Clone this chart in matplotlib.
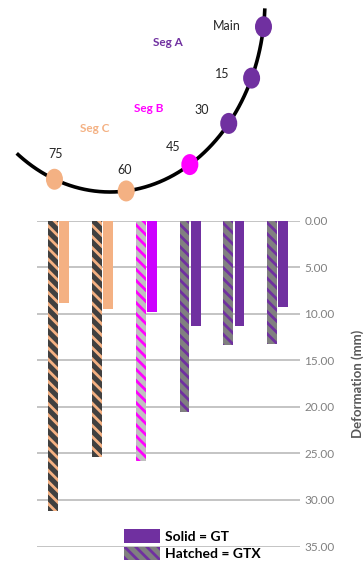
import numpy as np
import matplotlib
matplotlib.use("Agg")
import matplotlib.pyplot as plt
from matplotlib.patches import Ellipse, Patch

plt.rcParams['font.family'] = ['Lato', 'DejaVu Sans']
plt.rcParams['hatch.linewidth'] = 2.0

# bar data (deformation in mm), one pair per location
locations = ["75", "60", "45", "30", "15", "Main"]
gtx_values = [31.2, 25.4, 25.8, 20.6, 13.4, 13.3]   # hatched
gt_values = [8.9, 9.45, 9.8, 11.35, 11.3, 9.3]      # solid

# colours per location
solid_colors = ["#F4B183", "#F4B183", "#CC00FF", "#7030A0", "#7030A0", "#7030A0"]
hatch_bg = ["#404040", "#404040", "#C0C0C0", "#808080", "#808080", "#808080"]
hatch_fg = ["#F4B183", "#F4B183", "#FF00FF", "#7030A0", "#7030A0", "#7030A0"]

# schematic: nodes along the curved alignment (angle on the arc, degrees)
node_names = ["Main", "15", "30", "45", "60", "75"]
node_angles = [8, 24, 40, 59, 84, 111]
node_colors = ["#7030A0", "#7030A0", "#7030A0", "#FF00FF", "#F4B183", "#F4B183"]
seg_names = ["Seg A", "Seg B", "Seg C"]
seg_colors = ["#7030A0", "#FF00FF", "#F4B183"]

W, H = 363, 563
fig = plt.figure(figsize=(W / 100, H / 100), dpi=100)

# ---- schematic on top (pixel coordinates) ----
ax0 = fig.add_axes([0, 0, 1, 1])
ax0.set_xlim(0, W)
ax0.set_ylim(H, 0)
ax0.axis("off")

cx, cy, rx, ry = 110, 0, 155, 192
t = np.radians(np.linspace(2.5, 127, 200))
ax0.plot(cx + rx * np.cos(t), cy + ry * np.sin(t), color="black", lw=2.6,
         solid_capstyle="butt", zorder=1)

label_offsets = [(-37, -1), (-29, -4), (-27, -13), (-17, -18), (-2, -21), (1, -25)]
for name, ang, col, off in zip(node_names, node_angles, node_colors, label_offsets):
    a = np.radians(ang)
    x, y = cx + rx * np.cos(a), cy + ry * np.sin(a)
    ax0.add_patch(Ellipse((x, y), 17, 21, facecolor=col, edgecolor="none", zorder=2))
    ax0.text(x + off[0], y + off[1], name, fontsize=9, color="#262626",
             ha="center", va="center")

seg_pos = [(168, 43), (149, 109), (95, 128)]
for name, col, pos in zip(seg_names, seg_colors, seg_pos):
    ax0.text(pos[0], pos[1], name, fontsize=8.5, fontweight="bold", color=col,
             ha="center", va="center")

# ---- bar chart ----
ax = fig.add_axes([37 / W, 1 - 546.5 / H, 263 / W, 326 / H])
x = np.arange(len(locations))
bw = 0.225
for i in range(len(locations)):
    ax.bar(x[i] - 0.135, gtx_values[i], bw, facecolor=hatch_bg[i],
           edgecolor=hatch_fg[i], hatch="\\\\\\", lw=0, zorder=3)
    ax.bar(x[i] + 0.12, gt_values[i], bw, color=solid_colors[i], lw=0, zorder=3)

ax.set_xlim(-0.5, len(locations) - 0.5)
ax.set_ylim(35, 0)
ax.set_yticks(np.arange(0, 36, 5))
ax.set_yticklabels([f"{v:.2f}" for v in np.arange(0, 36, 5)])
ax.set_xticks([])
ax.yaxis.tick_right()
ax.tick_params(axis="y", length=0, pad=3, labelsize=8.5, labelcolor="#808080")
ax.yaxis.grid(True, color="#BFBFBF", lw=1.3)
ax.set_axisbelow(True)
for s in ax.spines.values():
    s.set_visible(False)
ax.yaxis.set_label_position("right")
ax.set_ylabel("Deformation (mm)", fontsize=9.5, fontweight="bold", color="#595959",
              labelpad=12)
ax.patch.set_alpha(0)

handles = [Patch(facecolor="#7030A0", lw=0, label="Solid = GT"),
           Patch(facecolor="#808080", edgecolor="#7030A0", hatch="\\\\\\", lw=0,
                 label="Hatched = GTX")]
fig.legend(handles=handles, loc="upper left", bbox_to_anchor=(124 / W, 1 - 529.5 / H),
           frameon=False, borderpad=0, borderaxespad=0, handlelength=2.6,
           handleheight=1.1, handletextpad=0.35, labelspacing=0.3,
           prop={"size": 10, "weight": "bold"})

fig.savefig("out.png", dpi=100)
